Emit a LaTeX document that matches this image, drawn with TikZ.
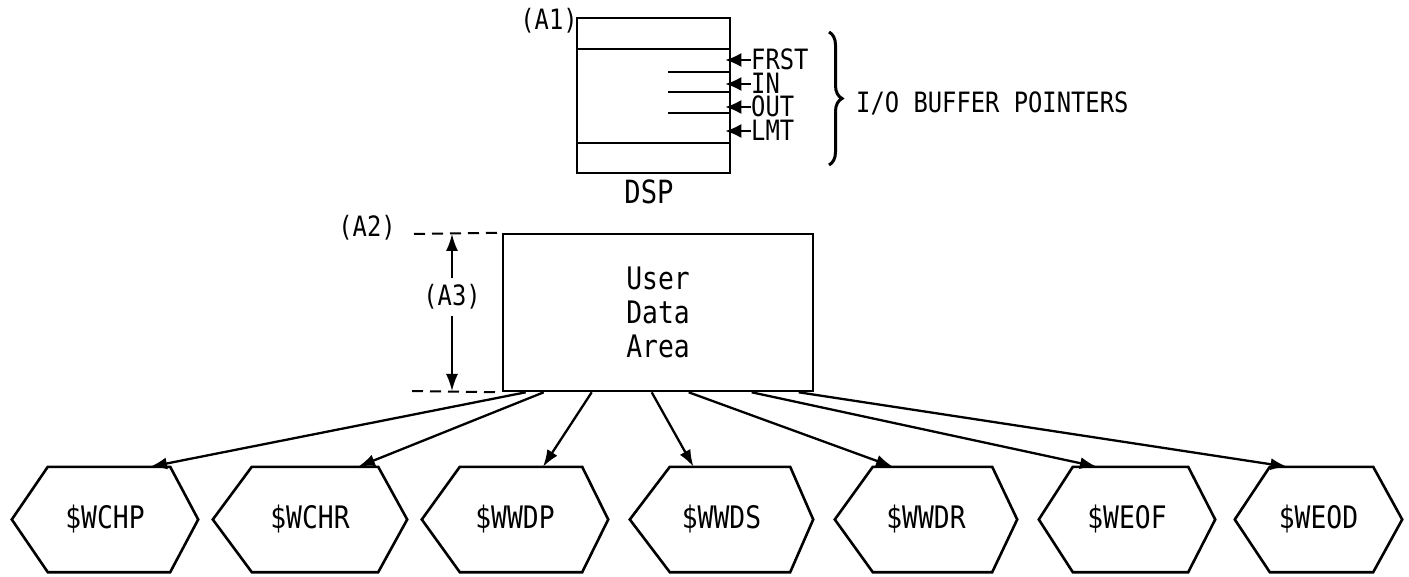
\documentclass[tikz,border=0pt]{standalone}
\usepackage{fontspec}
\setmainfont{DejaVu Sans Mono}[FakeStretch=0.85]
\usetikzlibrary{arrows.meta,decorations.pathreplacing}
\begin{document}
\begin{tikzpicture}[x=1pt,y=-1pt,
  boxline/.style={line width=2.6pt},
  arr/.style={line width=2.3pt,-{Latex[length=17pt,width=12pt]}},
  ptr/.style={line width=2pt,-{Latex[length=16pt,width=14pt]},shorten >=-6pt},
  dashline/.style={line width=2pt,dash pattern=on 11pt off 7pt},
  lbl/.style={inner sep=0pt,font=\fontsize{28}{30}\selectfont},
  ptrlbl/.style={inner sep=0pt,anchor=west,text height=19pt,text depth=0pt,font=\fontsize{28}{28}\selectfont},
  hexnode/.style={inner sep=0pt,minimum height=105pt,font=\fontsize{31}{34}\selectfont},
  hexline/.style={line width=2.6pt,line join=miter}
]
\useasboundingbox[fill=white] (0,0) rectangle (1409,577);

% DSP block
\node[boxline,draw,minimum width=153pt,minimum height=155pt,inner sep=0pt] (dsp) at (653.5,95.5) {};
\coordinate (l1) at (577,49);
\coordinate (l2) at (577,143);
\draw[boxline] (l1) -- (l1 -| dsp.east);
\draw[boxline] (l2) -- (l2 -| dsp.east);
\coordinate (s1) at (668,72);
\coordinate (s2) at (668,92);
\coordinate (s3) at (668,113);
\draw[line width=2pt] (s1) -- (s1 -| dsp.east);
\draw[line width=2pt] (s2) -- (s2 -| dsp.east);
\draw[line width=2pt] (s3) -- (s3 -| dsp.east);
\node[lbl] (a1) at (549,21) {(A1)};
\node[lbl,font=\fontsize{32}{32}\selectfont] (dsplbl) at (649,192) {DSP};

\node[ptrlbl] (frst) at (751,60) {FRST};
\node[ptrlbl] (in) at (751,84) {IN};
\node[ptrlbl] (out) at (751,107) {OUT};
\node[ptrlbl] (lmt) at (751,131) {LMT};
\draw[ptr] (frst.west) -- (frst.west -| dsp.east);
\draw[ptr] (in.west) -- (in.west -| dsp.east);
\draw[ptr] (out.west) -- (out.west -| dsp.east);
\draw[ptr] (lmt.west) -- (lmt.west -| dsp.east);

\coordinate (bt) at (829,32);
\coordinate (bb) at (829,165);
\draw[line width=3pt,decorate,decoration={brace,amplitude=13pt,aspect=0.5}] (bt) -- (bb);
\node[lbl,anchor=west] (iobp) at (856,103) {I/O BUFFER POINTERS};

% User data area
\node[boxline,draw,minimum width=310pt,minimum height=157pt,inner sep=0pt,align=center,
      font=\fontsize{31}{34}\selectfont] (uda) at (658,312.5) {User\\Data\\Area};
\coordinate (d1) at (414,234);
\coordinate (d2) at (412,391);
\draw[dashline] (d1) -- (uda.north west);
\draw[dashline] (d2) -- (uda.south west);
\node[lbl] (a2) at (367,228) {(A2)};
\node[lbl] (a3) at (452,297) {(A3)};
\draw[arr,line width=1.8pt] (a3.north) ++(0,-6) coordinate (a3t) -- (a3t |- d1);
\draw[arr,line width=1.8pt] (a3.south) ++(0,6) coordinate (a3b) -- (a3b |- d2);

% hexagons
\node[hexnode,minimum width=186pt] (h1) at (105,519.5) {\$WCHP};
\node[hexnode,minimum width=194pt] (h2) at (310,519.5) {\$WCHR};
\node[hexnode,minimum width=186pt] (h3) at (515,519.5) {\$WWDP};
\node[hexnode,minimum width=183pt] (h4) at (721.5,519.5) {\$WWDS};
\node[hexnode,minimum width=182pt] (h5) at (926,519.5) {\$WWDR};
\node[hexnode,minimum width=176pt] (h6) at (1127,519.5) {\$WEOF};
\node[hexnode,minimum width=167pt] (h7) at (1318.5,519.5) {\$WEOD};
\foreach \n/\l/\r in {h1/36/28,h2/39/29,h3/38/26,h4/40/23,h5/38/25,h6/34/27,h7/35/29}{
  \draw[hexline] (\n.west) -- ([xshift=\l pt]\n.north west) -- ([xshift=-\r pt]\n.north east)
    -- (\n.east) -- ([xshift=-\r pt]\n.south east) -- ([xshift=\l pt]\n.south west) -- cycle;
}

% connectors
\draw[arr] ([xshift=24pt]uda.south west) -- ([xshift=45pt]h1.north);
\draw[arr] ([xshift=42pt]uda.south west) -- ([xshift=48pt]h2.north);
\draw[arr] ([xshift=90pt]uda.south west) -- ([xshift=28pt]h3.north);
\draw[arr] ([xshift=150pt]uda.south west) -- ([xshift=-28pt]h4.north);
\draw[arr] ([xshift=187pt]uda.south west) -- ([xshift=-33pt]h5.north);
\draw[arr] ([xshift=250pt]uda.south west) -- ([xshift=-30pt]h6.north);
\draw[arr] ([xshift=297pt]uda.south west) -- ([xshift=-31pt]h7.north);
\end{tikzpicture}
\end{document}
